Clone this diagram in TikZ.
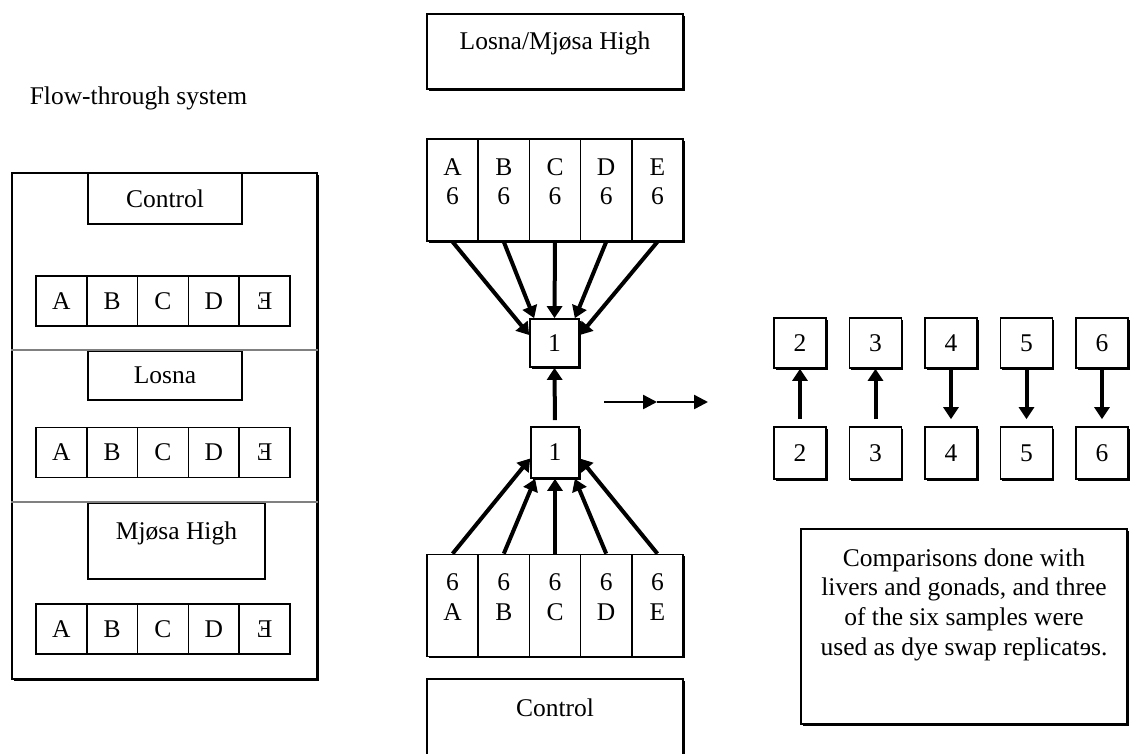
\documentclass[tikz,border=0pt]{standalone}
\usepackage{fontspec}
\setmainfont{Liberation Serif}
\usetikzlibrary{arrows.meta,shadows}

\begin{document}
\begin{tikzpicture}[
    x=1pt,y=-1pt,
    font=\fontsize{25.5}{29.7}\selectfont,
    line width=1.7pt,
    plain/.style={draw,fill=white,inner sep=0pt},
    sbox/.style={plain,drop shadow={shadow xshift=1.6pt,shadow yshift=-1.6pt,fill=black,opacity=1}},
    cell/.style={plain,minimum width=50.8pt,minimum height=50pt},
    tall/.style={sbox,minimum width=51.2pt,minimum height=102pt,
        label={[anchor=north,align=center,yshift=-16pt]north:#1}},
    sq/.style={sbox,minimum width=52pt,minimum height=50pt},
    divider/.style={draw=gray,line width=2.2pt},
    arrow/.style={-{Triangle[length=12pt,width=15pt]},line width=4pt},
    thinarrow/.style={-{Triangle[length=14pt,width=14pt]},line width=2.4pt}
]
\clip (0,0) rectangle (1130,753);
\fill[white] (0,0) rectangle (1130,753);

% flow-through system
\node (title) at (138.5,98) {Flow-through system};
\node[sbox,minimum width=305pt,minimum height=506pt] (tank) at (164.5,426) {};
\node[plain,minimum width=154pt,minimum height=51pt] (control) at (165,198.5) {Control};
\foreach \l [count=\i from 0] in {A,B,C,D,Ǝ}
    \node[cell] (ctl\i) at (61.4+50.8*\i,301) {\l};
\node[plain,minimum width=154pt,minimum height=49pt] (losna) at (165,375.5) {Losna};
\foreach \l [count=\i from 0] in {A,B,C,D,Ǝ}
    \node[cell] (los\i) at (61.4+50.8*\i,452.5) {\l};
\node[plain,minimum width=177pt,minimum height=76pt,
      label={[anchor=north,yshift=-15pt]north:Mjøsa High}] (mjosa) at (176.5,541) {};
\foreach \l [count=\i from 0] in {A,B,C,D,Ǝ}
    \node[cell] (mjo\i) at (61.4+50.8*\i,629) {\l};
\draw[divider] (tank.west |- losna.north) -- (tank.east |- losna.north);
\draw[divider] (tank.west |- mjosa.north) -- (tank.east |- mjosa.north);

% hybridisation scheme
\node[sbox,minimum width=256pt,minimum height=75pt,
      label={[anchor=north,yshift=-14pt]north:Losna/Mjøsa High}] (hibox) at (555,51.5) {};
\foreach \l [count=\i from 0] in {A,B,C,D,E}
    \node[tall={\l\\6}] (hi\i) at (452.6+51.2*\i,190) {};
\node[sq,minimum width=49pt,minimum height=48pt] (onehi) at (554.5,343) {1};
\node[sq,minimum width=48pt,minimum height=51pt] (onelo) at (555,452.5) {1};
\foreach \l [count=\i from 0] in {A,B,C,D,E}
    \node[tall={6\\\l}] (lo\i) at (452.6+51.2*\i,605.5) {};
\node[sbox,minimum width=256pt,minimum height=102pt,
      label={[anchor=north,yshift=-16pt]north:Control}] (ctlbox) at (555,730) {};

\draw[arrow] (hi0.south) -- ([yshift=8pt]onehi.west);
\draw[arrow] (hi1.south) -- ([xshift=5pt]onehi.north west);
\draw[arrow] (hi2.south) -- (onehi.north);
\draw[arrow] (hi3.south) -- ([xshift=-5pt]onehi.north east);
\draw[arrow] (hi4.south) -- ([yshift=8pt]onehi.east);
\draw[arrow] (lo0.north) -- ([yshift=-6pt]onelo.west);
\draw[arrow] (lo1.north) -- ([xshift=5pt]onelo.south west);
\draw[arrow] (lo2.north) -- (onelo.south);
\draw[arrow] (lo3.north) -- ([xshift=-5pt]onelo.south east);
\draw[arrow] (lo4.north) -- ([yshift=-6pt]onelo.east);
\draw[arrow,shorten <=6pt] (onelo.north) -- (onehi.south);

\coordinate (hstart) at (604,402);
\coordinate (hmid) at (657,402);
\coordinate (hend) at (708,402);
\draw[thinarrow] (hstart) -- (hmid);
\draw[thinarrow] (hmid) -- (hend);

% dye swaps
\foreach \n [count=\i from 0] in {2,...,6} {
    \node[sq] (top\n) at (800+75.5*\i,343) {\n};
    \node[sq,minimum height=52pt] (bot\n) at (800+75.5*\i,453) {\n};
}
\foreach \n in {2,3}
    \draw[arrow,shorten <=7pt] (bot\n.north) -- (top\n.south);
\foreach \n in {4,5,6}
    \draw[arrow,shorten >=7pt] (top\n.south) -- (bot\n.north);

\node[sbox,minimum width=326pt,minimum height=195pt,
      label={[anchor=north,align=center,yshift=-16pt]north:{Comparisons done with\\livers and gonads, and three\\of the six samples were\\used as dye swap replicatɘs.}}] (note) at (964,626.5) {};
\end{tikzpicture}
\end{document}
